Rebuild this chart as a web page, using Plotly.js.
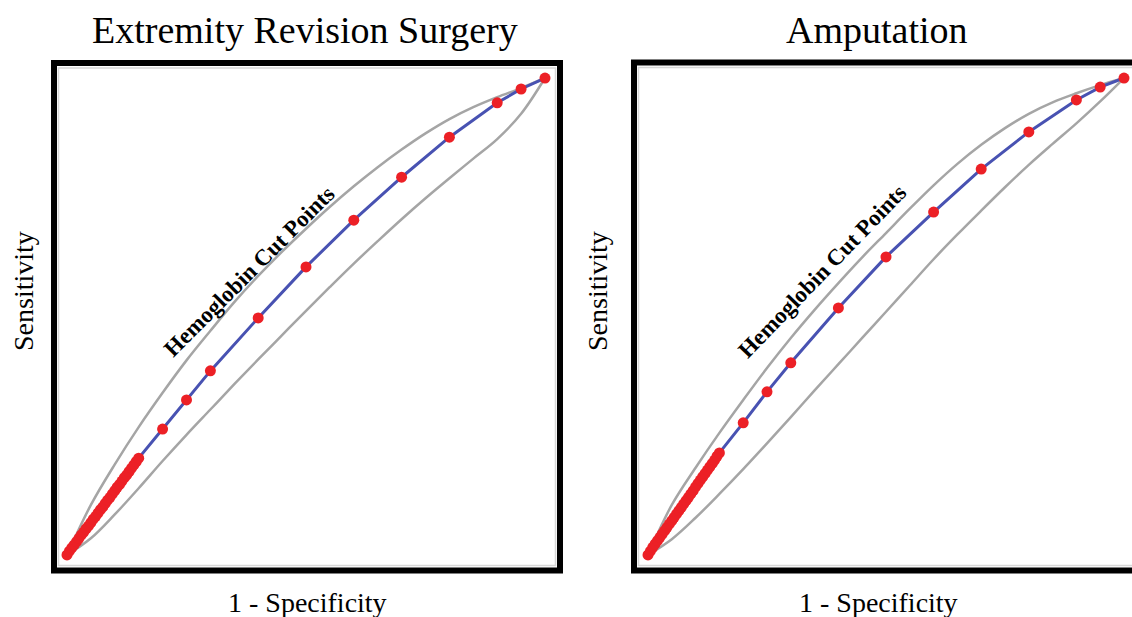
<!DOCTYPE html>
<html>
<head>
<meta charset="utf-8">
<script src="https://cdn.plot.ly/plotly-3.0.1.min.js"></script>
<style>html,body{margin:0;padding:0;background:#fff;}#chart{width:1132px;height:617px;}</style>
</head>
<body>
<div id="chart"></div>
<script>
// ---- Data ----
const panelTitles = ["Extremity Revision Surgery", "Amputation"];
const xAxisLabel = "1 - Specificity";
const yAxisLabel = "Sensitivity";
const cutLabel = "Hemoglobin Cut Points";

// Extremity Revision Surgery: ROC cut points (dense cluster near origin, then sparse)
const ersFpr = [0, 0.005, 0.01, 0.015, 0.02, 0.025, 0.03, 0.035, 0.04, 0.045, 0.05, 0.055, 0.06, 0.065, 0.07, 0.075, 0.08, 0.085, 0.09, 0.095, 0.10, 0.105, 0.11, 0.115, 0.12, 0.125, 0.13, 0.135, 0.14, 0.145, 0.15,
                0.20, 0.25, 0.30, 0.40, 0.50, 0.60, 0.70, 0.80, 0.90, 0.95, 1.00];
const ersTpr = [0, 0.008, 0.015, 0.021, 0.028, 0.035, 0.042, 0.048, 0.055, 0.061, 0.068, 0.075, 0.081, 0.088, 0.095, 0.101, 0.108, 0.115, 0.121, 0.128, 0.135, 0.142, 0.148, 0.155, 0.162, 0.168, 0.175, 0.182, 0.189, 0.196, 0.203,
                0.264, 0.325, 0.386, 0.497, 0.604, 0.702, 0.792, 0.876, 0.948, 0.977, 1.00];
// confidence band (upper / lower)
const bandX = [0, 0.05, 0.10, 0.15, 0.20, 0.25, 0.30, 0.35, 0.40, 0.45, 0.50, 0.55, 0.60, 0.65, 0.70, 0.75, 0.80, 0.85, 0.90, 0.95, 1.00];
const ersUpperY = [0, 0.105, 0.19, 0.268, 0.34, 0.408, 0.47, 0.53, 0.585, 0.636, 0.684, 0.73, 0.773, 0.813, 0.85, 0.884, 0.914, 0.939, 0.96, 0.979, 1];
const ersLowerY = [0, 0.035, 0.085, 0.14, 0.197, 0.252, 0.305, 0.358, 0.41, 0.461, 0.512, 0.562, 0.611, 0.658, 0.704, 0.748, 0.79, 0.831, 0.872, 0.925, 1];

// Amputation: ROC cut points
const ampFpr = [0, 0.005, 0.01, 0.015, 0.02, 0.025, 0.03, 0.035, 0.04, 0.045, 0.05, 0.055, 0.06, 0.065, 0.07, 0.075, 0.08, 0.085, 0.09, 0.095, 0.10, 0.105, 0.11, 0.115, 0.12, 0.125, 0.13, 0.135, 0.14, 0.145, 0.15,
                0.20, 0.25, 0.30, 0.40, 0.50, 0.60, 0.70, 0.80, 0.90, 0.95, 1.00];
const ampTpr = [0, 0.008, 0.016, 0.023, 0.030, 0.037, 0.044, 0.051, 0.058, 0.065, 0.072, 0.079, 0.086, 0.093, 0.100, 0.107, 0.114, 0.121, 0.128, 0.135, 0.143, 0.150, 0.157, 0.164, 0.171, 0.178, 0.185, 0.192, 0.199, 0.207, 0.214,
                0.277, 0.342, 0.403, 0.518, 0.625, 0.719, 0.809, 0.887, 0.954, 0.981, 1.00];
const ampUpperY = [0, 0.105, 0.183, 0.256, 0.325, 0.392, 0.455, 0.514, 0.57, 0.624, 0.675, 0.726, 0.775, 0.82, 0.86, 0.895, 0.925, 0.949, 0.968, 0.985, 1];
const ampLowerY = [0, 0.033, 0.078, 0.128, 0.18, 0.234, 0.289, 0.345, 0.40, 0.455, 0.51, 0.565, 0.62, 0.672, 0.722, 0.771, 0.818, 0.862, 0.905, 0.951, 1];

// ---- Styling / layout ----
const W = 1132, H = 617;
const px = v => v / W;
const py = v => 1 - v / H;
const GRAY = 'rgb(165,165,165)';
const BLUE = 'rgb(72,82,178)';
const RED = 'rgb(236,32,38)';
const SERIF = 'Liberation Serif';

function band(x, y, xa, ya) {
  return {x: x, y: y, xaxis: xa, yaxis: ya, mode: 'lines', type: 'scatter',
    line: {color: GRAY, width: 2.5, shape: 'spline', smoothing: 1}, hoverinfo: 'skip', cliponaxis: false};
}
function roc(x, y, xa, ya) {
  return {x: x, y: y, xaxis: xa, yaxis: ya, mode: 'lines+markers', type: 'scatter',
    line: {color: BLUE, width: 3}, marker: {color: RED, size: 11}, cliponaxis: false};
}

const data = [
  band(bandX, ersUpperY, 'x', 'y'),
  band(bandX, ersLowerY, 'x', 'y'),
  roc(ersFpr, ersTpr, 'x', 'y'),
  band(bandX, ampUpperY, 'x2', 'y2'),
  band(bandX, ampLowerY, 'x2', 'y2'),
  roc(ampFpr, ampTpr, 'x2', 'y2')
];

const hidden = {showgrid: false, zeroline: false, showticklabels: false, ticks: '', showline: false, fixedrange: true};

const layout = {
  width: W, height: H,
  margin: {l: 0, r: 0, t: 0, b: 0},
  paper_bgcolor: '#fff', plot_bgcolor: '#fff',
  showlegend: false,
  xaxis: Object.assign({domain: [px(57), px(557)], range: [-0.0209, 1.0251]}, hidden),
  yaxis: Object.assign({domain: [py(567), py(66)], range: [-0.0252, 1.0252]}, hidden),
  xaxis2: Object.assign({domain: [px(637), 1], range: [-0.0231, 1.0168], anchor: 'y2'}, hidden),
  yaxis2: Object.assign({domain: [py(567), py(66)], range: [-0.0252, 1.0252], anchor: 'x2'}, hidden),
  shapes: [
    {type: 'rect', xref: 'paper', yref: 'paper', x0: px(58.5), x1: px(555.5), y0: py(68), y1: py(565.5), line: {color: 'rgb(215,215,215)', width: 1.5}, layer: 'below'},
    {type: 'rect', xref: 'paper', yref: 'paper', x0: px(54), x1: px(560), y0: py(63), y1: py(570.5), line: {color: '#000', width: 6}},
    {type: 'rect', xref: 'paper', yref: 'paper', x0: px(638.5), x1: px(1160), y0: py(67.5), y1: py(565.5), line: {color: 'rgb(215,215,215)', width: 1.5}, layer: 'below'},
    {type: 'rect', xref: 'paper', yref: 'paper', x0: px(634), x1: px(1160), y0: py(62.5), y1: py(570.5), line: {color: '#000', width: 6}}
  ],
  annotations: [
    {text: panelTitles[0], xref: 'paper', yref: 'paper', x: px(305), y: py(30), xanchor: 'center', yanchor: 'middle', showarrow: false, font: {family: SERIF, size: 38, color: '#000'}},
    {text: panelTitles[1], xref: 'paper', yref: 'paper', x: px(877), y: py(30), xanchor: 'center', yanchor: 'middle', showarrow: false, font: {family: SERIF, size: 38, color: '#000'}},
    {text: xAxisLabel, xref: 'paper', yref: 'paper', x: px(307), y: py(602), xanchor: 'center', yanchor: 'middle', showarrow: false, font: {family: SERIF, size: 28, color: '#000'}},
    {text: xAxisLabel, xref: 'paper', yref: 'paper', x: px(878), y: py(602), xanchor: 'center', yanchor: 'middle', showarrow: false, font: {family: SERIF, size: 28, color: '#000'}},
    {text: yAxisLabel, xref: 'paper', yref: 'paper', x: px(23), y: py(291), xanchor: 'center', yanchor: 'middle', textangle: -90, showarrow: false, font: {family: SERIF, size: 28, color: '#000'}},
    {text: yAxisLabel, xref: 'paper', yref: 'paper', x: px(597), y: py(291), xanchor: 'center', yanchor: 'middle', textangle: -90, showarrow: false, font: {family: SERIF, size: 28, color: '#000'}},
    {text: '<b>' + cutLabel + '</b>', xref: 'paper', yref: 'paper', x: px(249), y: py(271), xanchor: 'center', yanchor: 'middle', textangle: -45, showarrow: false, font: {family: SERIF, size: 23, color: '#000'}},
    {text: '<b>' + cutLabel + '</b>', xref: 'paper', yref: 'paper', x: px(822), y: py(271), xanchor: 'center', yanchor: 'middle', textangle: -46, showarrow: false, font: {family: SERIF, size: 23, color: '#000'}}
  ]
};

Plotly.newPlot('chart', data, layout, {staticPlot: true, displayModeBar: false});
</script>
</body>
</html>
